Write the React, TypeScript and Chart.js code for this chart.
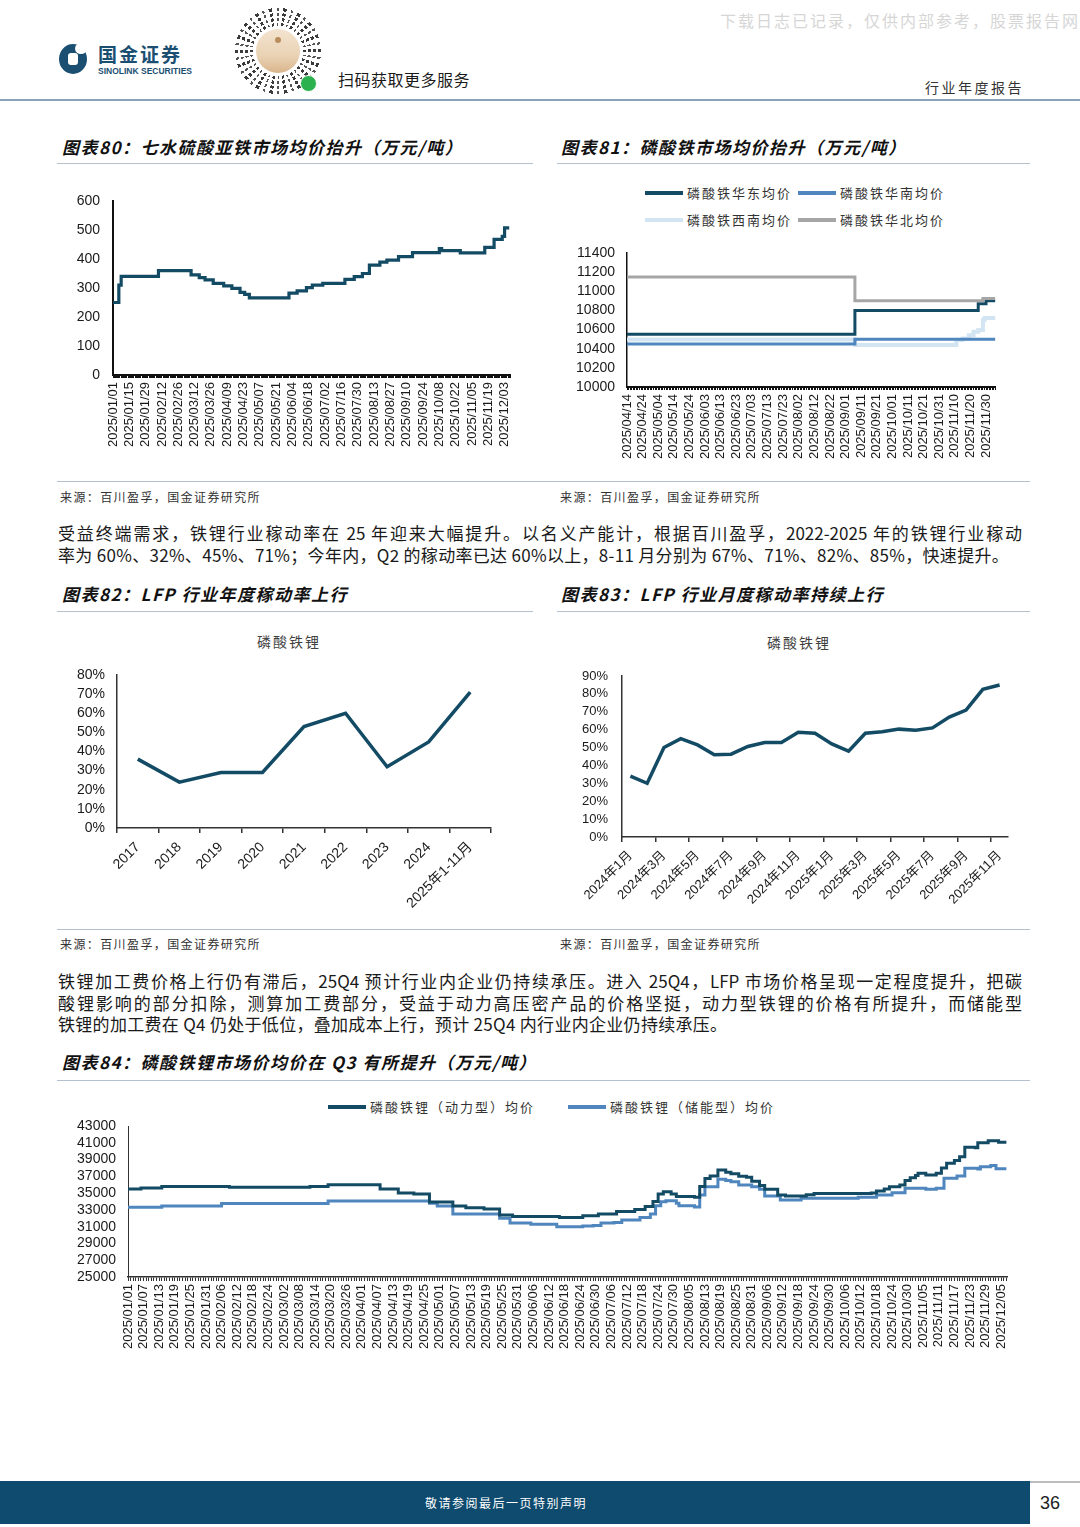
import React, { useEffect, useRef } from 'react';
import { Chart, registerables } from 'chart.js';

Chart.register(...registerables);

const NUM_FONT = '"Liberation Sans", Arial, "Noto Sans CJK SC", sans-serif';
const CJK_FONT = '"Noto Sans CJK SC", "Noto Sans", sans-serif';

const DARK = '#134b65';
const MID = '#4f86bd';
const LIGHT = '#d3e4f3';
const GRAY = '#a6a6a6';

// ---------------- 图表80 ----------------
const c80Ticks = ['2025/01/01', '2025/01/15', '2025/01/29', '2025/02/12', '2025/02/26', '2025/03/12', '2025/03/26', '2025/04/09', '2025/04/23', '2025/05/07', '2025/05/21', '2025/06/04', '2025/06/18', '2025/07/02', '2025/07/16', '2025/07/30', '2025/08/13', '2025/08/27', '2025/09/10', '2025/09/24', '2025/10/08', '2025/10/22', '2025/11/05', '2025/11/19', '2025/12/03'];
const c80Dates = ['2025/01/01', '2025/01/06', '2025/01/08', '2025/02/09', '2025/03/09', '2025/03/16', '2025/03/21', '2025/03/28', '2025/04/06', '2025/04/13', '2025/04/20', '2025/04/24', '2025/04/28', '2025/06/01', '2025/06/08', '2025/06/16', '2025/06/21', '2025/06/30', '2025/07/19', '2025/07/27', '2025/08/03', '2025/08/09', '2025/08/18', '2025/08/24', '2025/09/03', '2025/09/15', '2025/10/08', '2025/10/10', '2025/10/26', '2025/11/16', '2025/11/24', '2025/12/01', '2025/12/03', '2025/12/07'];
const c80Values = [250, 310, 340, 360, 345, 336, 328, 316, 307, 299, 285, 278, 266, 282, 290, 301, 310, 316, 330, 339, 350, 379, 389, 396, 408, 422, 436, 429, 421, 440, 468, 478, 507, 507];

// ---------------- 图表81 ----------------
const c81Ticks = ['2025/04/14', '2025/04/24', '2025/05/04', '2025/05/14', '2025/05/24', '2025/06/03', '2025/06/13', '2025/06/23', '2025/07/03', '2025/07/13', '2025/07/23', '2025/08/02', '2025/08/12', '2025/08/22', '2025/09/01', '2025/09/11', '2025/09/21', '2025/10/01', '2025/10/11', '2025/10/21', '2025/10/31', '2025/11/10', '2025/11/20', '2025/11/30'];
const c81Labels = ['磷酸铁华东均价', '磷酸铁华南均价', '磷酸铁西南均价', '磷酸铁华北均价'];
const c81EastDates = ['2025/04/14', '2025/09/07', '2025/11/25', '2025/11/30', '2025/12/06'];
const c81EastValues = [10550, 10800, 10870, 10900, 10900];
const c81SouthDates = ['2025/04/14', '2025/09/07', '2025/12/06'];
const c81SouthValues = [10450, 10500, 10500];
const c81SouthwestDates = ['2025/04/14', '2025/09/07', '2025/11/11', '2025/11/15', '2025/11/19', '2025/11/22', '2025/11/25', '2025/11/28', '2025/11/29', '2025/12/06'];
const c81SouthwestValues = [10495, 10440, 10490, 10507, 10540, 10578, 10595, 10700, 10720, 10720];
const c81NorthDates = ['2025/04/14', '2025/09/07', '2025/11/28', '2025/12/06'];
const c81NorthValues = [11150, 10900, 10925, 10925];

// ---------------- 图表82 ----------------
const c82Categories = ['2017', '2018', '2019', '2020', '2021', '2022', '2023', '2024', '2025年1-11月'];
const c82Values = [36, 24, 29, 29, 53, 60, 32, 45, 71];

// ---------------- 图表83 ----------------
const c83Categories = ['2024年1月', '2024年2月', '2024年3月', '2024年4月', '2024年5月', '2024年6月', '2024年7月', '2024年8月', '2024年9月', '2024年10月', '2024年11月', '2024年12月', '2025年1月', '2025年2月', '2025年3月', '2025年4月', '2025年5月', '2025年6月', '2025年7月', '2025年8月', '2025年9月', '2025年10月', '2025年11月'];
const c83Values = [34, 30, 50, 55, 51.5, 46, 46.3, 50.6, 52.8, 52.8, 58.6, 58, 52, 48, 58, 58.8, 60.3, 59.7, 61, 67, 71, 82.5, 85];

// ---------------- 图表84 ----------------
const c84Ticks = ['2025/01/01', '2025/01/07', '2025/01/13', '2025/01/19', '2025/01/25', '2025/01/31', '2025/02/06', '2025/02/12', '2025/02/18', '2025/02/24', '2025/03/02', '2025/03/08', '2025/03/14', '2025/03/20', '2025/03/26', '2025/04/01', '2025/04/07', '2025/04/13', '2025/04/19', '2025/04/25', '2025/05/01', '2025/05/07', '2025/05/13', '2025/05/19', '2025/05/25', '2025/05/31', '2025/06/06', '2025/06/12', '2025/06/18', '2025/06/24', '2025/06/30', '2025/07/06', '2025/07/12', '2025/07/18', '2025/07/24', '2025/07/30', '2025/08/05', '2025/08/13', '2025/08/19', '2025/08/25', '2025/08/31', '2025/09/06', '2025/09/12', '2025/09/18', '2025/09/24', '2025/09/30', '2025/10/06', '2025/10/12', '2025/10/18', '2025/10/24', '2025/10/30', '2025/11/05', '2025/11/11', '2025/11/17', '2025/11/23', '2025/11/29', '2025/12/05'];
const c84MissingDates = ['2025/08/09', '2025/08/10'];
const c84Labels = ['磷酸铁锂（动力型）均价', '磷酸铁锂（储能型）均价'];
const c84PowerDates = ['2025/01/01', '2025/01/06', '2025/01/14', '2025/02/09', '2025/03/12', '2025/03/19', '2025/04/08', '2025/04/15', '2025/04/21', '2025/04/27', '2025/05/06', '2025/05/11', '2025/05/18', '2025/05/24', '2025/05/29', '2025/06/16', '2025/06/25', '2025/07/01', '2025/07/08', '2025/07/15', '2025/07/19', '2025/07/22', '2025/07/24', '2025/07/26', '2025/07/29', '2025/07/31', '2025/08/07', '2025/08/11', '2025/08/13', '2025/08/15', '2025/08/18', '2025/08/21', '2025/08/23', '2025/08/26', '2025/08/29', '2025/08/31', '2025/09/03', '2025/09/05', '2025/09/10', '2025/09/13', '2025/09/21', '2025/09/24', '2025/10/16', '2025/10/18', '2025/10/21', '2025/10/23', '2025/10/27', '2025/10/29', '2025/10/31', '2025/11/02', '2025/11/03', '2025/11/06', '2025/11/10', '2025/11/12', '2025/11/14', '2025/11/17', '2025/11/19', '2025/11/21', '2025/11/25', '2025/11/26', '2025/11/30', '2025/12/04', '2025/12/07'];
const c84PowerValues = [35500, 35600, 35800, 35700, 35800, 36000, 35500, 35000, 34900, 33950, 33450, 33250, 33100, 32400, 32200, 32100, 32300, 32500, 32800, 33050, 33400, 34000, 34900, 35150, 34900, 34600, 34500, 35800, 36750, 37050, 37750, 37500, 37300, 37000, 36900, 36400, 35900, 35450, 34780, 34650, 34800, 34950, 35000, 35250, 35500, 35770, 35970, 36500, 36840, 37100, 37360, 37170, 37360, 38000, 38550, 38900, 39340, 40460, 40400, 41010, 41250, 41050, 41050];
const c84StorageDates = ['2025/01/01', '2025/01/14', '2025/02/06', '2025/03/19', '2025/04/27', '2025/04/30', '2025/05/06', '2025/05/24', '2025/05/28', '2025/06/05', '2025/06/15', '2025/06/25', '2025/06/29', '2025/07/02', '2025/07/07', '2025/07/10', '2025/07/17', '2025/07/21', '2025/07/23', '2025/07/25', '2025/07/27', '2025/07/31', '2025/08/01', '2025/08/07', '2025/08/11', '2025/08/13', '2025/08/18', '2025/08/21', '2025/08/23', '2025/08/26', '2025/08/31', '2025/09/03', '2025/09/05', '2025/09/11', '2025/09/19', '2025/10/11', '2025/10/18', '2025/10/24', '2025/10/29', '2025/11/06', '2025/11/10', '2025/11/13', '2025/11/18', '2025/11/21', '2025/11/26', '2025/11/27', '2025/12/01', '2025/12/03', '2025/12/07'];
const c84StorageValues = [33300, 33450, 33750, 34050, 33780, 33460, 32500, 32000, 31430, 31300, 31000, 31070, 31150, 31430, 31500, 31780, 32100, 32500, 33500, 33980, 34100, 33800, 33500, 33350, 34780, 35770, 36640, 36500, 36360, 35970, 35770, 35450, 34650, 34180, 34380, 34500, 34780, 35050, 35570, 35450, 35570, 36760, 37040, 37950, 37870, 38150, 38300, 37900, 37900];

// ---------------- helpers ----------------
const DAY_MS = 86400000;
function dayOfYear(d: string): number {
  const [y, m, dd] = d.split('/').map(Number);
  return Math.round((Date.UTC(y, m - 1, dd) - Date.UTC(y, 0, 1)) / DAY_MS);
}
function rowIndex(d: string, missing: string[]): number {
  return dayOfYear(d) - missing.filter((x) => x < d).length;
}
function toPoints(dates: string[], values: number[], missing: string[] = []) {
  return dates.map((d, i) => ({ x: rowIndex(d, missing), y: values[i] }));
}

function denseDateAxis(tickDates: string[], missing: string[], min: number, max: number, o: any) {
  const labelMap = new Map<number, string>();
  tickDates.forEach((d) => labelMap.set(rowIndex(d, missing), d));
  return {
    type: 'linear',
    min,
    max,
    afterBuildTicks: (scale: any) => {
      const t: any[] = [];
      for (let v = Math.ceil(min); v <= max; v++) t.push({ value: v });
      scale.ticks = t;
    },
    afterFit: (scale: any) => {
      scale.height = o.height;
    },
    ticks: {
      autoSkip: false,
      minRotation: 90,
      maxRotation: 90,
      padding: o.padding,
      color: '#1a1a1a',
      font: { family: NUM_FONT, size: 13 },
      callback: (v: any) => labelMap.get(v) ?? '',
    },
    grid: { drawOnChartArea: false, drawTicks: true, tickLength: o.tickLength, color: o.color, lineWidth: 1 },
    border: { display: true, color: o.color, width: o.borderWidth },
  };
}

function yAxis(min: number, max: number, step: number, width: number, padding: number, size: number, color: string, bw: number, fmt?: (v: number) => string) {
  return {
    min,
    max,
    afterFit: (scale: any) => {
      scale.width = width;
      scale.paddingTop = 0;
      scale.paddingBottom = 0;
    },
    ticks: {
      stepSize: step,
      autoSkip: false,
      padding,
      color: '#1a1a1a',
      font: { family: NUM_FONT, size },
      callback: (v: any) => (fmt ? fmt(v) : String(v)),
    },
    grid: { display: false, drawTicks: false },
    border: { display: true, color, width: bw },
  };
}

const baseOptions = (padding: any) => ({
  responsive: false,
  animation: false,
  layout: { padding },
  plugins: { legend: { display: false }, tooltip: { enabled: false }, title: { display: false } },
});

function config80(): any {
  return {
    type: 'line',
    data: {
      datasets: [
        { data: toPoints(c80Dates, c80Values), borderColor: DARK, borderWidth: 3.2, pointRadius: 0, stepped: 'before', fill: false },
      ],
    },
    options: {
      ...baseOptions({ top: 16, right: 12, left: 0, bottom: 0 }),
      scales: {
        x: denseDateAxis(c80Ticks, [], 0, 341, { height: 85, padding: 4, tickLength: 3, color: '#111', borderWidth: 2 }),
        y: yAxis(0, 600, 100, 53, 13, 14, '#111', 2),
      },
    },
  };
}

const c81Colors = [DARK, MID, LIGHT, GRAY];
function config81(): any {
  const series = [
    [c81EastDates, c81EastValues],
    [c81SouthDates, c81SouthValues],
    [c81SouthwestDates, c81SouthwestValues],
    [c81NorthDates, c81NorthValues],
  ];
  return {
    type: 'line',
    data: {
      datasets: series.map((s, i) => ({
        label: c81Labels[i],
        data: toPoints(s[0] as string[], s[1] as number[]),
        borderColor: c81Colors[i],
        borderWidth: i === 2 ? 4 : 3,
        pointRadius: 0,
        stepped: 'before',
        fill: false,
        order: i === 3 ? 0 : i + 1,
      })),
    },
    options: {
      ...baseOptions({ top: 13, right: 13, left: 0, bottom: 0 }),
      scales: {
        x: denseDateAxis(c81Ticks, [], dayOfYear('2025/04/14'), dayOfYear('2025/04/14') + 236, { height: 83, padding: 4, tickLength: 3, color: '#111', borderWidth: 2 }),
        y: yAxis(10000, 11400, 200, 57, 12, 14, '#111', 1.5),
      },
    },
  };
}

function categoryAxis(height: number, size: number, everyOther: boolean) {
  return {
    type: 'category',
    offset: true,
    afterFit: (scale: any) => {
      scale.height = height;
    },
    ticks: {
      autoSkip: false,
      minRotation: 45,
      maxRotation: 45,
      padding: 6,
      color: '#1a1a1a',
      font: { family: NUM_FONT, size },
      callback: function (this: any, v: any, i: number) {
        if (everyOther && i % 2 === 1) return '';
        return this.getLabelForValue(v);
      },
    },
    grid: {
      drawOnChartArea: false,
      drawTicks: true,
      tickLength: 5,
      offset: true,
      lineWidth: 1.5,
      color: (ctx: any) => (!everyOther || ctx.index % 2 === 0 ? '#333' : 'rgba(0,0,0,0)'),
    },
    border: { display: true, color: '#333', width: 1.5 },
  };
}

function config82(): any {
  return {
    type: 'line',
    data: {
      labels: c82Categories,
      datasets: [{ data: c82Values, borderColor: DARK, borderWidth: 3.5, pointRadius: 0, tension: 0, fill: false }],
    },
    options: {
      ...baseOptions({ top: 15, right: 14, left: 0, bottom: 0 }),
      scales: {
        x: categoryAxis(92, 14, false),
        y: yAxis(0, 80, 10, 57, 12, 14, '#333', 1.5, (v) => v + '%'),
      },
    },
  };
}

function config83(): any {
  return {
    type: 'line',
    data: {
      labels: c83Categories,
      datasets: [{ data: c83Values, borderColor: DARK, borderWidth: 3.5, pointRadius: 0, tension: 0, fill: false }],
    },
    options: {
      ...baseOptions({ top: 16, right: 12, left: 0, bottom: 0 }),
      scales: {
        x: categoryAxis(83, 13, true),
        y: yAxis(0, 90, 10, 57, 14, 13, '#333', 1.5, (v) => v + '%'),
      },
    },
  };
}

const c84Colors = [DARK, MID];
function config84(): any {
  const series = [
    [c84PowerDates, c84PowerValues],
    [c84StorageDates, c84StorageValues],
  ];
  return {
    type: 'line',
    data: {
      datasets: series.map((s, i) => ({
        label: c84Labels[i],
        data: toPoints(s[0] as string[], s[1] as number[], c84MissingDates),
        borderColor: c84Colors[i],
        borderWidth: 3,
        pointRadius: 0,
        stepped: 'before',
        fill: false,
      })),
    },
    options: {
      ...baseOptions({ top: 11, right: 15, left: 0, bottom: 0 }),
      scales: {
        x: denseDateAxis(c84Ticks, c84MissingDates, 0, 338.5, { height: 88, padding: 3, tickLength: 4, color: '#333', borderWidth: 1.5 }),
        y: yAxis(25000, 43000, 2000, 58, 12, 14, '#333', 1),
      },
    },
  };
}

function ChartBox({ left, top, width, height, make }: any) {
  const ref = useRef<HTMLCanvasElement>(null);
  useEffect(() => {
    const chart = new Chart(ref.current as HTMLCanvasElement, make());
    return () => chart.destroy();
  }, []);
  return (
    <div style={{ position: 'absolute', left, top, width, height }}>
      <canvas ref={ref} width={width} height={height} style={{ width, height, display: 'block' }} />
    </div>
  );
}

function T({ x, y, size, children, color = '#222', weight = 400, italic = false, ls = 0, font = CJK_FONT, lh = 24 }: any) {
  return (
    <div
      style={{
        position: 'absolute',
        left: x,
        top: y - lh / 2,
        fontSize: size,
        lineHeight: lh + 'px',
        color,
        fontWeight: weight,
        fontStyle: italic ? 'italic' : 'normal',
        letterSpacing: ls,
        fontFamily: font,
        whiteSpace: 'nowrap',
      }}
    >
      {children}
    </div>
  );
}

function HLine({ x, y, w, h = 1, color = '#b3c1cf' }: any) {
  return <div style={{ position: 'absolute', left: x, top: y, width: w, height: h, background: color }} />;
}

function Title({ x, y, text }: any) {
  return <T x={x} y={y} size={17} weight={700} italic ls={1.5} color="#111">{text}</T>;
}

function Source({ x, y }: any) {
  return <T x={x} y={y} size={12} ls={1.4} color="#333">来源：百川盈孚，国金证券研究所</T>;
}

function LegendItem({ x, y, color, label }: any) {
  return (
    <>
      <div style={{ position: 'absolute', left: x, top: y - 2, width: 38, height: 4, background: color }} />
      <T x={x + 42} y={y} size={13} ls={2} color="#333">{label}</T>
    </>
  );
}

function Para({ x, top, lh, lines, justify }: any) {
  return (
    <div style={{ position: 'absolute', left: x, top, width: 964, fontFamily: CJK_FONT, fontSize: 17, letterSpacing: 0, color: '#1a1a1a', lineHeight: lh + 'px' }}>
      {lines.map((l: string, i: number) => (
        <div
          key={i}
          style={{
            textAlign: justify[i] ? 'justify' : 'left',
            textAlignLast: justify[i] ? 'justify' : 'left',
            whiteSpace: justify[i] ? 'normal' : 'nowrap',
            letterSpacing: justify[i] ? 0 : 0.3,
          } as any}
        >
          {l}
        </div>
      ))}
    </div>
  );
}

const para1 = [
  '受益终端需求，铁锂行业稼动率在 25 年迎来大幅提升。以名义产能计，根据百川盈孚，2022-2025 年的铁锂行业稼动',
  '率为 60%、32%、45%、71%；今年内，Q2 的稼动率已达 60%以上，8-11 月分别为 67%、71%、82%、85%，快速提升。',
];
const para2 = [
  '铁锂加工费价格上行仍有滞后，25Q4 预计行业内企业仍持续承压。进入 25Q4，LFP 市场价格呈现一定程度提升，把碳',
  '酸锂影响的部分扣除，测算加工费部分，受益于动力高压密产品的价格坚挺，动力型铁锂的价格有所提升，而储能型',
  '铁锂的加工费在 Q4 仍处于低位，叠加成本上行，预计 25Q4 内行业内企业仍持续承压。',
];

function QRCode() {
  return (
    <div style={{ position: 'absolute', left: 234, top: 7, width: 88, height: 88 }}>
      <div
        style={{
          position: 'absolute',
          inset: 0,
          borderRadius: '50%',
          background:
            'repeating-radial-gradient(circle at 50% 50%, rgba(255,255,255,0) 0 3px, #fff 3px 5px), repeating-conic-gradient(from 7deg, #3a3a3a 0deg 5deg, #fff 5deg 11deg, #555 11deg 14deg, #fff 14deg 20deg)',
        }}
      />
      <div style={{ position: 'absolute', left: 20, top: 20, width: 48, height: 48, borderRadius: '50%', background: '#fff' }} />
      <div style={{ position: 'absolute', left: 22, top: 22, width: 44, height: 44, borderRadius: '50%', background: 'linear-gradient(#f3e3cf 0%, #ead3b5 60%, #d9b58c 100%)' }} />
      <div style={{ position: 'absolute', left: 41, top: 30, width: 6, height: 6, borderRadius: '50%', background: '#b98c5d' }} />
      <div style={{ position: 'absolute', left: 66, top: 68, width: 15, height: 15, borderRadius: '50%', background: '#2bb14e', border: '1.5px solid #fff' }} />
    </div>
  );
}

function Logo() {
  return (
    <>
      <div style={{ position: 'absolute', left: 59, top: 44, width: 28, height: 30, borderRadius: '50%', background: '#1b4f72' }} />
      <div style={{ position: 'absolute', left: 75, top: 43, width: 12, height: 11, borderRadius: '50%', background: '#fff' }} />
      <div style={{ position: 'absolute', left: 68, top: 53, width: 10, height: 12, borderRadius: 3, background: '#fff' }} />
      <T x={98} y={54} size={19} weight={700} ls={2} color="#1b4f72" lh={20}>国金证券</T>
      <T x={98} y={71} size={8.5} weight={700} color="#1b4f72" font={NUM_FONT} lh={10}>SINOLINK SECURITIES</T>
    </>
  );
}

export default function App() {
  return (
    <div style={{ position: 'absolute', left: 0, top: 0, width: 1080, height: 1527, background: '#fff', overflow: 'hidden' }}>
      {/* header */}
      <T x={720} y={20} size={16} ls={2} color="#d6d6d6">下载日志已记录，仅供内部参考，股票报告网</T>
      <Logo />
      <QRCode />
      <T x={338} y={79} size={16} ls={0.5} color="#1a1a1a">扫码获取更多服务</T>
      <T x={925} y={87} size={14} ls={2.5} color="#333">行业年度报告</T>
      <HLine x={0} y={99} w={1080} h={1.5} color="#8aa2ba" />

      {/* 图表80 / 81 */}
      <Title x={62} y={147} text="图表80：七水硫酸亚铁市场均价抬升（万元/吨）" />
      <Title x={561} y={147} text="图表81：磷酸铁市场均价抬升（万元/吨）" />
      <HLine x={57} y={163} w={476} />
      <HLine x={557} y={163} w={473} />
      <ChartBox left={60} top={185} width={470} height={275} make={config80} />
      <LegendItem x={645} y={193} color={c81Colors[0]} label={c81Labels[0]} />
      <LegendItem x={798} y={193} color={c81Colors[1]} label={c81Labels[1]} />
      <LegendItem x={645} y={220} color={c81Colors[2]} label={c81Labels[2]} />
      <LegendItem x={798} y={220} color={c81Colors[3]} label={c81Labels[3]} />
      <ChartBox left={570} top={240} width={445} height={230} make={config81} />
      <HLine x={57} y={481} w={973} />
      <Source x={60} y={497} />
      <Source x={560} y={497} />

      <Para x={58} top={522} lh={22} lines={para1} justify={[true, false]} />

      {/* 图表82 / 83 */}
      <Title x={62} y={594} text="图表82：LFP 行业年度稼动率上行" />
      <Title x={561} y={594} text="图表83：LFP 行业月度稼动率持续上行" />
      <HLine x={57} y={611} w={476} />
      <HLine x={557} y={611} w={473} />
      <T x={257} y={641} size={14} ls={2} color="#404040">磷酸铁锂</T>
      <T x={767} y={642} size={14} ls={2} color="#404040">磷酸铁锂</T>
      <ChartBox left={60} top={660} width={445} height={260} make={config82} />
      <ChartBox left={565} top={660} width={455} height={260} make={config83} />
      <HLine x={57} y={929} w={973} />
      <Source x={60} y={944} />
      <Source x={560} y={944} />

      <Para x={58} top={970} lh={21.5} lines={para2} justify={[true, true, false]} />

      {/* 图表84 */}
      <Title x={62} y={1062} text="图表84：磷酸铁锂市场价均价在 Q3 有所提升（万元/吨）" />
      <HLine x={57} y={1080} w={973} />
      <LegendItem x={328} y={1107} color={c84Colors[0]} label={c84Labels[0]} />
      <LegendItem x={568} y={1107} color={c84Colors[1]} label={c84Labels[1]} />
      <ChartBox left={70} top={1115} width={955} height={250} make={config84} />

      {/* footer */}
      <div style={{ position: 'absolute', left: 0, top: 1481, width: 1030, height: 43, background: '#0e4b6e' }} />
      <HLine x={1030} y={1481} w={50} h={2} color="#bdbdbd" />
      <div style={{ position: 'absolute', left: 0, top: 1491, width: 1012, textAlign: 'center', fontSize: 12, lineHeight: '24px', letterSpacing: 1.5, color: '#fff', fontFamily: CJK_FONT }}>敬请参阅最后一页特别声明</div>
      <T x={1040} y={1503} size={18} color="#222" font={'"Liberation Sans Narrow", "Liberation Sans", Arial, sans-serif'}>36</T>
    </div>
  );
}
